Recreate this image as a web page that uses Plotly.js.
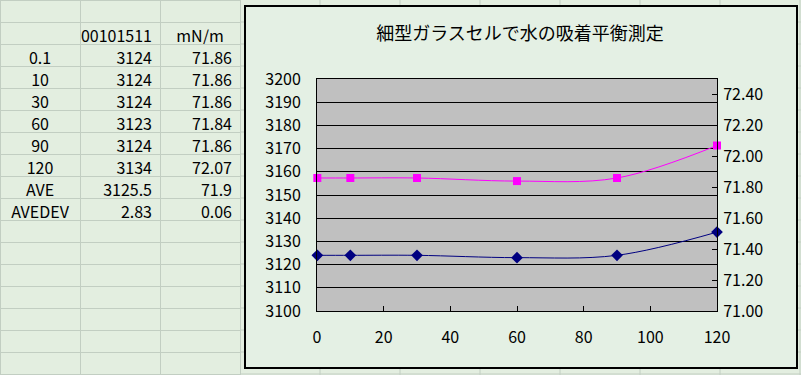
<!DOCTYPE html>
<html>
<head>
<meta charset="utf-8">
<script src="https://cdn.plot.ly/plotly-3.0.1.min.js"></script>
<style>html,body{margin:0;padding:0;background:#E3EEE0;}#chart{width:801px;height:375px;}</style>
</head>
<body>
<div id="chart"></div>
<script>
// ---- data ----
var timeLabels = ['0.1', '10', '30', '60', '90', '120'];
var timeValues = [0.1, 10, 30, 60, 90, 120];
var signalValues = [3124, 3124, 3124, 3123, 3124, 3134];
var tensionValues = [71.86, 71.86, 71.86, 71.84, 71.86, 72.07];
var signalHeader = '00101511';
var tensionHeader = 'mN/m';
var statLabels = ['AVE', 'AVEDEV'];
var signalStats = ['3125.5', '2.83'];
var tensionStats = ['71.9', '0.06'];
var chartTitle = '細型ガラスセルで水の吸着平衡測定';

var W = 801, H = 375;
var FONT = '"Noto Sans CJK JP", "Noto Sans", sans-serif';
var BG = '#E3EEE0';
var GRID = '#C2CEC2';
var ROWS = 16; // cell rows below header row

// spreadsheet columns
var col0 = [''].concat(timeLabels, statLabels);
var col1 = [signalHeader].concat(signalValues.map(String), signalStats);
var col2 = [tensionHeader].concat(tensionValues.map(function(v){return v.toFixed(2);}), tensionStats);
while (col0.length < ROWS) { col0.push(''); col1.push(''); col2.push(''); }
var al0 = col0.map(function(){return 'center';});
var al1 = col1.map(function(){return 'right';});
var al2 = col2.map(function(v, i){return i === 0 ? 'center' : 'right';});

var table = {
  type: 'table',
  domain: {x: [0, 240 / W], y: [0, 1]},
  columnwidth: [80, 80, 80],
  header: {
    values: ['', '', ''],
    height: 22,
    fill: {color: BG},
    line: {color: GRID, width: 1},
    font: {family: FONT, size: 16, color: '#000'}
  },
  cells: {
    values: [col0, col1, col2],
    height: 22,
    align: [al0, al1, al2],
    fill: {color: BG},
    line: {color: GRID, width: 1},
    font: {family: FONT, size: 16, color: '#000'}
  }
};

var sig = {
  type: 'scatter', mode: 'lines+markers',
  x: timeValues, y: signalValues, yaxis: 'y',
  line: {color: '#000080', width: 1, shape: 'spline'},
  marker: {symbol: 'diamond', size: 9, color: '#000080'},
  cliponaxis: false, showlegend: false
};
var ten = {
  type: 'scatter', mode: 'lines+markers',
  x: timeValues, y: tensionValues, yaxis: 'y2',
  line: {color: '#FF00FF', width: 1, shape: 'spline'},
  marker: {symbol: 'square', size: 8, color: '#FF00FF'},
  cliponaxis: false, showlegend: false
};

function px(x){return x / W;}
function py(y){return 1 - y / H;}

var shapes = [];
// spreadsheet grid continuing behind the chart
for (var gx = 320; gx <= 800; gx += 80) {
  shapes.push({type:'line', layer:'below', xref:'paper', yref:'paper', x0:px(gx), x1:px(gx), y0:0, y1:1, line:{color:GRID, width:1}});
}
for (var gy = 22; gy <= 375; gy += 22) {
  shapes.push({type:'line', layer:'below', xref:'paper', yref:'paper', x0:px(240), x1:1, y0:py(gy), y1:py(gy), line:{color:GRID, width:1}});
}
// chart area
shapes.push({type:'rect', layer:'below', xref:'paper', yref:'paper', x0:px(245), x1:px(797), y0:py(6), y1:py(368), fillcolor:'#E4F0E4', line:{color:'#000', width:2}});
// plot area
shapes.push({type:'rect', layer:'below', xref:'x domain', yref:'y domain', x0:0, x1:1, y0:0, y1:1, fillcolor:'#C0C0C0', line:{width:0}});

var tickFont = {family: FONT, size: 16, color: '#000'};

var layout = {
  width: W, height: H,
  margin: {l: 0, r: 0, t: 0, b: 0},
  paper_bgcolor: BG,
  plot_bgcolor: 'rgba(0,0,0,0)',
  showlegend: false,
  title: {
    text: chartTitle, x: 520 / W, xanchor: 'center', xref: 'paper',
    y: py(34), yanchor: 'middle', yref: 'paper',
    font: {family: FONT, size: 18, color: '#000'}
  },
  xaxis: {
    domain: [317 / W, 717 / W], range: [0, 120], tick0: 0, dtick: 20,
    ticks: 'inside', ticklen: 5, tickcolor: '#000',
    showline: true, mirror: true, linecolor: '#000', linewidth: 1,
    showgrid: false, zeroline: false, tickfont: tickFont,
    ticklabelstandoff: 12, fixedrange: true
  },
  yaxis: {
    domain: [(H - 311) / H, (H - 79) / H], range: [3100, 3200], tick0: 3100, dtick: 10,
    ticks: '', showline: true, mirror: true, linecolor: '#000', linewidth: 1,
    showgrid: true, gridcolor: '#000', gridwidth: 1, zeroline: false,
    tickfont: tickFont, ticklabelstandoff: 12, fixedrange: true
  },
  yaxis2: {
    overlaying: 'y', side: 'right', anchor: 'x',
    range: [71, 72.5], tick0: 71, dtick: 0.2, tickformat: '.2f',
    ticks: 'inside', ticklen: 5, tickcolor: '#000',
    showline: true, linecolor: '#000', linewidth: 1,
    showgrid: false, zeroline: false, tickfont: tickFont,
    ticklabelstandoff: 2, fixedrange: true
  },
  shapes: shapes
};

Plotly.newPlot('chart', [table, sig, ten], layout, {displayModeBar: false, staticPlot: true});
</script>
</body>
</html>
